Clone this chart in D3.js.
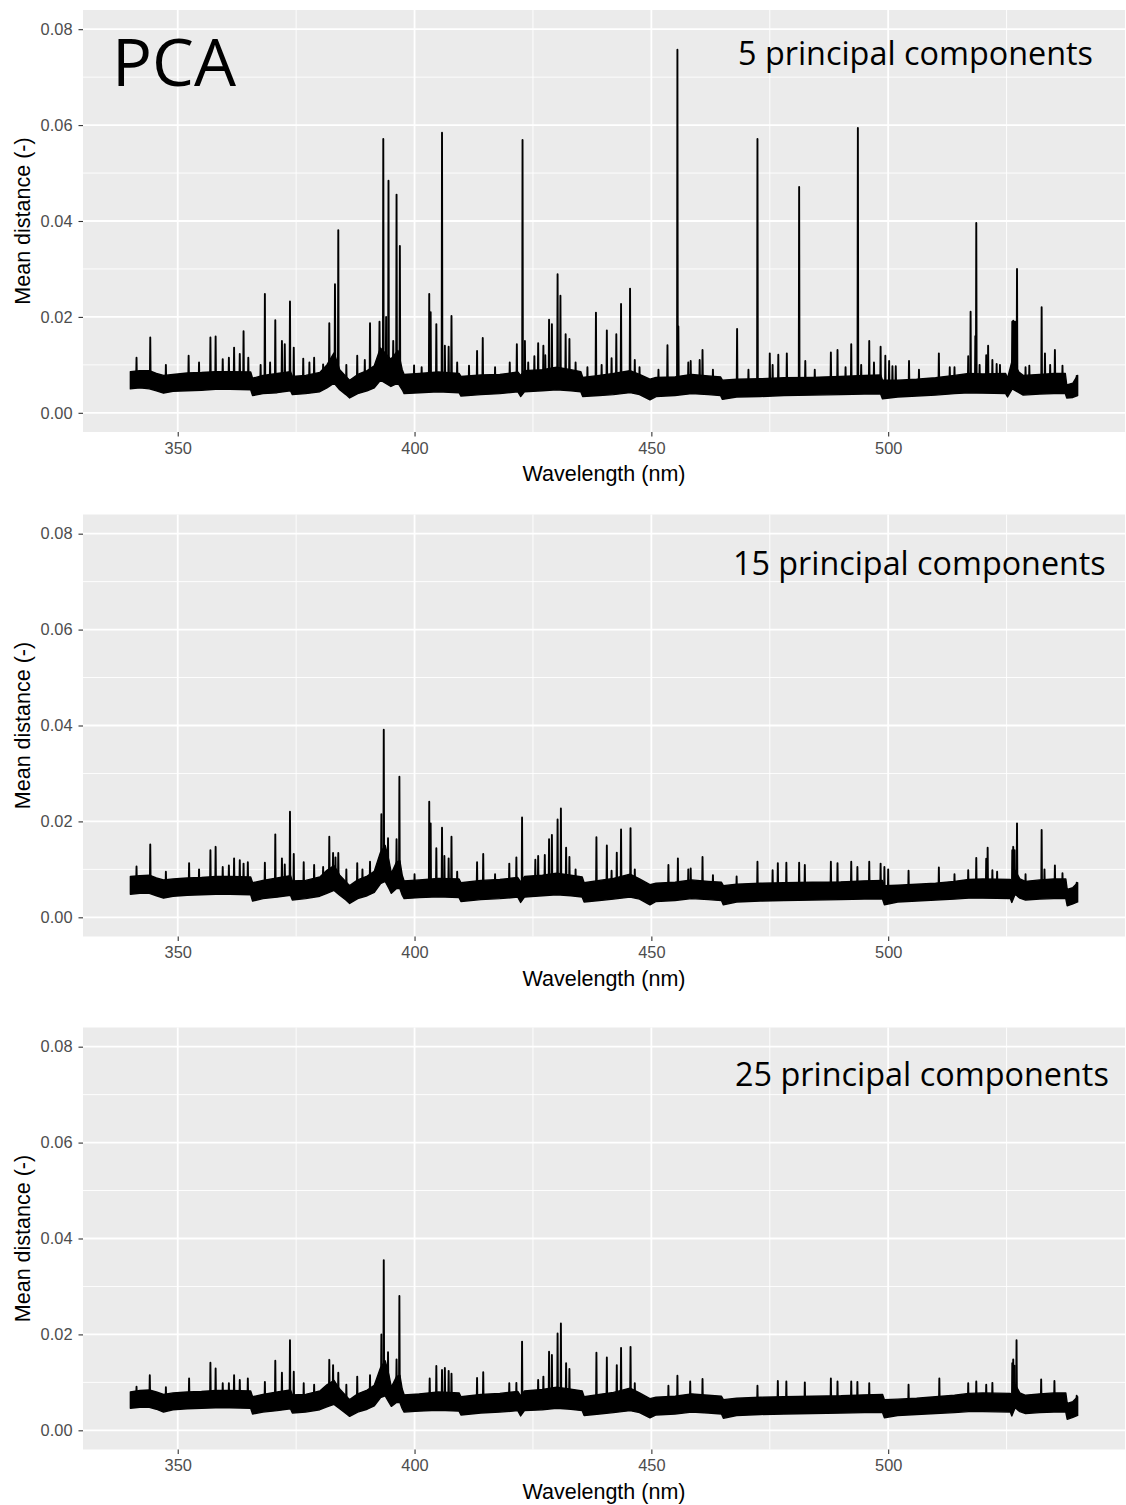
<!DOCTYPE html>
<html>
<head>
<meta charset="utf-8">
<script src="https://cdn.jsdelivr.net/npm/d3@7"></script>
<style>
  body { margin: 0; background: #fff; }
  text { font-family: "Liberation Sans", Arial, sans-serif; }
</style>
</head>
<body>
<script>
// tick values
var wavelengthTicks = [350, 400, 450, 500];
var wavelengthMinor = [375, 425, 475, 525];
var distanceTicks = [0, 0.02, 0.04, 0.06, 0.08];
var distanceMinor = [0.01, 0.03, 0.05, 0.07];

var panelLabels = ["5 principal components", "15 principal components", "25 principal components"];

// noise band of each spectrum: [wavelength, low, high]
var band5 = [
  [340, 0.0050, 0.0086], [342, 0.0052, 0.0088], [344, 0.0050, 0.0088], [345.5, 0.0046, 0.0082], [347, 0.0041, 0.0078],
  [349, 0.0045, 0.0080], [352, 0.0046, 0.0083], [355, 0.0047, 0.0084], [358, 0.0049, 0.0086], [361, 0.0049, 0.0086],
  [365.4, 0.0048, 0.0085], [365.8, 0.0036, 0.0072], [368, 0.0040, 0.0078], [371, 0.0042, 0.0082], [373.8, 0.0046, 0.0086],
  [374.2, 0.0038, 0.0076], [377, 0.0040, 0.0078], [380, 0.0044, 0.0084], [381.5, 0.0052, 0.0100], [383, 0.0062, 0.0125],
  [384.2, 0.0048, 0.0090], [385.5, 0.0038, 0.0076], [386.3, 0.0031, 0.0068], [388, 0.0040, 0.0080], [390, 0.0046, 0.0088],
  [391.5, 0.0052, 0.0098], [392.8, 0.0068, 0.0135], [395.0, 0.0055, 0.0112], [396.5, 0.0062, 0.0130], [397.4, 0.0048, 0.0090],
  [397.8, 0.0040, 0.0080], [401, 0.0042, 0.0082], [405, 0.0044, 0.0085], [409.4, 0.0042, 0.0082], [409.8, 0.0035, 0.0076],
  [414, 0.0038, 0.0079], [418, 0.0040, 0.0080], [421.8, 0.0044, 0.0085], [422.4, 0.0034, 0.0078], [423.2, 0.0044, 0.0088],
  [427, 0.0046, 0.0090], [430, 0.0048, 0.0095], [433, 0.0046, 0.0090], [435.1, 0.0044, 0.0086], [435.5, 0.0034, 0.0074],
  [439, 0.0036, 0.0078], [442, 0.0038, 0.0082], [445.5, 0.0042, 0.0088], [447.5, 0.0038, 0.0080], [449.7, 0.0027, 0.0070],
  [451, 0.0034, 0.0074], [455, 0.0036, 0.0075], [458.5, 0.0040, 0.0080], [462, 0.0038, 0.0077], [464.6, 0.0036, 0.0075],
  [465.0, 0.0028, 0.0068], [468, 0.0033, 0.0070], [473, 0.0034, 0.0071], [478, 0.0036, 0.0073], [484, 0.0037, 0.0074],
  [490, 0.0038, 0.0076], [495, 0.0039, 0.0078], [498.4, 0.0039, 0.0079], [498.8, 0.0029, 0.0068], [502, 0.0033, 0.0068],
  [506, 0.0035, 0.0070], [510, 0.0037, 0.0073], [514, 0.0040, 0.0078], [517, 0.0042, 0.0082], [520, 0.0041, 0.0081],
  [524.8, 0.0040, 0.0082], [525.2, 0.0033, 0.0072], [526.2, 0.0050, 0.0110], [527.6, 0.0042, 0.0085], [528.5, 0.0037, 0.0078],
  [532, 0.0039, 0.0080], [535, 0.0040, 0.0082], [537.4, 0.0040, 0.0082], [537.7, 0.0031, 0.0058], [539, 0.0032, 0.0062],
  [540, 0.0036, 0.0078]
];

var band15 = [
  [340, 0.0048, 0.0085], [342, 0.0050, 0.0087], [344, 0.0050, 0.0088], [345.5, 0.0045, 0.0082], [347, 0.0040, 0.0078],
  [349, 0.0044, 0.0080], [352, 0.0046, 0.0082], [355, 0.0047, 0.0083], [358, 0.0048, 0.0085], [361, 0.0048, 0.0085],
  [365.4, 0.0047, 0.0084], [365.8, 0.0034, 0.0072], [368, 0.0039, 0.0077], [371, 0.0042, 0.0082], [373.8, 0.0046, 0.0087],
  [374.2, 0.0036, 0.0076], [377, 0.0039, 0.0077], [380, 0.0044, 0.0084], [381.5, 0.0050, 0.0098], [383, 0.0056, 0.0108],
  [384.2, 0.0046, 0.0088], [385.5, 0.0036, 0.0074], [386.3, 0.0029, 0.0066], [388, 0.0039, 0.0078], [390, 0.0045, 0.0086],
  [391.5, 0.0052, 0.0096], [392.8, 0.0070, 0.0135], [393.8, 0.0075, 0.0150], [394.6, 0.0060, 0.0118], [395.1, 0.0050, 0.0092],
  [396.2, 0.0060, 0.0115], [396.9, 0.0060, 0.0118], [397.4, 0.0046, 0.0088], [397.8, 0.0039, 0.0076], [401, 0.0041, 0.0078],
  [405, 0.0043, 0.0081], [409.4, 0.0041, 0.0080], [409.8, 0.0033, 0.0072], [414, 0.0037, 0.0077], [418, 0.0039, 0.0079],
  [421.8, 0.0042, 0.0083], [422.4, 0.0031, 0.0074], [423.2, 0.0042, 0.0085], [427, 0.0045, 0.0088], [430, 0.0047, 0.0092],
  [433, 0.0045, 0.0088], [435.4, 0.0042, 0.0084], [435.8, 0.0032, 0.0072], [439, 0.0035, 0.0077], [442, 0.0038, 0.0081],
  [445.5, 0.0042, 0.0090], [447.5, 0.0038, 0.0080], [449.7, 0.0026, 0.0068], [451, 0.0033, 0.0071], [455, 0.0035, 0.0073],
  [458.5, 0.0039, 0.0078], [462, 0.0037, 0.0075], [464.8, 0.0035, 0.0073], [465.2, 0.0026, 0.0066], [468, 0.0032, 0.0069],
  [473, 0.0034, 0.0071], [478, 0.0035, 0.0072], [484, 0.0036, 0.0073], [490, 0.0037, 0.0074], [495, 0.0038, 0.0076],
  [498.8, 0.0038, 0.0077], [499.2, 0.0026, 0.0066], [502, 0.0032, 0.0067], [506, 0.0034, 0.0069], [510, 0.0036, 0.0071],
  [514, 0.0038, 0.0075], [517, 0.0040, 0.0079], [520, 0.0040, 0.0080], [525.8, 0.0039, 0.0079], [526.1, 0.0031, 0.0070],
  [526.8, 0.0048, 0.0098], [527.8, 0.0040, 0.0080], [529, 0.0036, 0.0075], [532, 0.0038, 0.0078], [535, 0.0039, 0.0080],
  [537.5, 0.0039, 0.0080], [537.8, 0.0024, 0.0058], [539, 0.0028, 0.0062], [540, 0.0032, 0.0072]
];

var band25 = [
  [340, 0.0046, 0.0080], [342, 0.0048, 0.0083], [344, 0.0048, 0.0084], [345.5, 0.0044, 0.0080], [347, 0.0038, 0.0075],
  [349, 0.0043, 0.0078], [352, 0.0045, 0.0080], [355, 0.0046, 0.0081], [358, 0.0047, 0.0083], [361, 0.0047, 0.0083],
  [365.4, 0.0046, 0.0082], [365.8, 0.0034, 0.0070], [368, 0.0038, 0.0075], [371, 0.0041, 0.0080], [373.8, 0.0045, 0.0084],
  [374.2, 0.0036, 0.0074], [377, 0.0038, 0.0075], [380, 0.0043, 0.0082], [381.5, 0.0049, 0.0095], [383, 0.0054, 0.0104],
  [384.2, 0.0045, 0.0086], [385.5, 0.0035, 0.0072], [386.3, 0.0029, 0.0064], [388, 0.0038, 0.0076], [390, 0.0044, 0.0084],
  [391.5, 0.0051, 0.0094], [392.8, 0.0068, 0.0130], [393.8, 0.0072, 0.0145], [394.6, 0.0058, 0.0115], [395.1, 0.0050, 0.0090],
  [396.2, 0.0058, 0.0112], [396.9, 0.0058, 0.0115], [397.4, 0.0045, 0.0086], [397.8, 0.0038, 0.0074], [401, 0.0040, 0.0076],
  [405, 0.0042, 0.0080], [409.4, 0.0040, 0.0078], [409.8, 0.0032, 0.0070], [414, 0.0036, 0.0075], [418, 0.0038, 0.0077],
  [421.8, 0.0041, 0.0081], [422.4, 0.0030, 0.0072], [423.2, 0.0041, 0.0082], [427, 0.0043, 0.0085], [430, 0.0046, 0.0090],
  [433, 0.0044, 0.0086], [435.4, 0.0041, 0.0082], [435.8, 0.0031, 0.0070], [439, 0.0034, 0.0075], [442, 0.0037, 0.0079],
  [445.5, 0.0041, 0.0088], [447.5, 0.0037, 0.0078], [449.7, 0.0026, 0.0066], [451, 0.0032, 0.0069], [455, 0.0034, 0.0071],
  [458.5, 0.0038, 0.0076], [462, 0.0036, 0.0073], [464.8, 0.0034, 0.0071], [465.2, 0.0025, 0.0064], [468, 0.0031, 0.0067],
  [473, 0.0033, 0.0069], [478, 0.0034, 0.0070], [484, 0.0035, 0.0071], [490, 0.0036, 0.0072], [495, 0.0037, 0.0074],
  [498.8, 0.0037, 0.0075], [499.2, 0.0026, 0.0064], [502, 0.0031, 0.0065], [506, 0.0033, 0.0067], [510, 0.0035, 0.0070],
  [514, 0.0037, 0.0073], [517, 0.0039, 0.0077], [520, 0.0039, 0.0078], [525.8, 0.0038, 0.0077], [526.1, 0.0030, 0.0068],
  [526.8, 0.0047, 0.0096], [527.8, 0.0039, 0.0078], [529, 0.0035, 0.0073], [532, 0.0037, 0.0076], [535, 0.0038, 0.0078],
  [537.5, 0.0038, 0.0078], [537.8, 0.0023, 0.0056], [539, 0.0027, 0.0060], [540, 0.0031, 0.0070]
];

// emission lines: [wavelength, peak value]
var peaks5 = [
  [341.3, 0.0115], [344.2, 0.0157], [347.5, 0.0100], [352.3, 0.0119], [354.5, 0.0105], [356.9, 0.0157], [358.0, 0.0159],
  [359.5, 0.0112], [360.8, 0.0115], [361.9, 0.0136], [363.1, 0.0123], [363.9, 0.0170], [364.9, 0.0115], [367.5, 0.0100],
  [368.4, 0.0248], [369.5, 0.0105], [370.6, 0.0193], [372.0, 0.0150], [372.6, 0.0143], [373.7, 0.0232], [374.5, 0.0136],
  [376.5, 0.0113], [377.8, 0.0105], [378.8, 0.0115], [380.7, 0.0101], [382.0, 0.0187], [383.2, 0.0268], [383.9, 0.0381],
  [385.6, 0.0100], [387.9, 0.0119], [389.5, 0.0110], [390.6, 0.0187], [392.6, 0.0190], [393.4, 0.0571], [394.0, 0.0200],
  [394.5, 0.0484], [395.5, 0.0150], [396.2, 0.0455], [396.9, 0.0348], [399.9, 0.0099], [401.5, 0.0095], [403.1, 0.0248],
  [403.4, 0.0210], [404.6, 0.0185], [405.8, 0.0584], [406.4, 0.0140], [407.2, 0.0138], [407.8, 0.0202], [409.0, 0.0105],
  [411.5, 0.0098], [413.2, 0.0129], [414.4, 0.0156], [417.0, 0.0095], [420.1, 0.0105], [421.6, 0.0143], [422.8, 0.0569],
  [423.3, 0.0150], [424.0, 0.0105], [425.3, 0.0118], [426.1, 0.0145], [427.2, 0.0140], [427.6, 0.0120], [428.4, 0.0194],
  [429.0, 0.0185], [430.2, 0.0289], [430.8, 0.0244], [431.9, 0.0164], [432.7, 0.0154], [434.0, 0.0105], [436.5, 0.0095],
  [438.3, 0.0209], [439.5, 0.0100], [440.6, 0.0172], [441.6, 0.0114], [442.6, 0.0164], [443.6, 0.0227], [445.5, 0.0259],
  [446.5, 0.0110], [447.5, 0.0095], [451.5, 0.0090], [453.4, 0.0141], [455.5, 0.0757], [455.7, 0.0180], [457.8, 0.0105],
  [458.3, 0.0108], [460.2, 0.0110], [460.8, 0.0131], [463.0, 0.0090], [468.1, 0.0175], [470.5, 0.0090], [472.4, 0.0571],
  [475.0, 0.0124], [475.6, 0.0100], [476.8, 0.0121], [478.6, 0.0124], [481.2, 0.0471], [482.5, 0.0108], [484.5, 0.0090],
  [487.9, 0.0126], [489.3, 0.0131], [491.0, 0.0095], [492.2, 0.0143], [493.6, 0.0594], [494.3, 0.0100], [496.0, 0.0150],
  [497.0, 0.0105], [498.4, 0.0138], [499.4, 0.0119], [500.2, 0.0108], [500.9, 0.0097], [501.6, 0.0097], [504.4, 0.0108],
  [506.5, 0.0090], [510.7, 0.0124], [513.0, 0.0095], [514.0, 0.0095], [516.9, 0.0118], [517.4, 0.0211], [518.4, 0.0160],
  [518.6, 0.0396], [519.3, 0.0100], [520.7, 0.0120], [521.1, 0.0140], [522.0, 0.0110], [522.9, 0.0102], [523.6, 0.0100],
  [526.2, 0.0190], [526.4, 0.0192], [526.6, 0.0190], [526.8, 0.0190], [527.2, 0.0300], [529.0, 0.0095], [529.8, 0.0098],
  [532.4, 0.0220], [533.1, 0.0124], [534.2, 0.0100], [535.2, 0.0131], [536.8, 0.0098], [539.8, 0.0077]
];

var peaks15 = [
  [341.3, 0.0106], [344.2, 0.0152], [347.5, 0.0095], [352.4, 0.0113], [354.5, 0.0100], [356.9, 0.0140], [358.0, 0.0147],
  [359.5, 0.0105], [360.8, 0.0108], [361.9, 0.0123], [363.1, 0.0119], [363.9, 0.0112], [364.8, 0.0115], [368.4, 0.0114],
  [370.6, 0.0173], [372.0, 0.0123], [372.6, 0.0110], [373.7, 0.0220], [374.5, 0.0132], [376.6, 0.0115], [378.8, 0.0109],
  [380.7, 0.0105], [382.0, 0.0168], [382.8, 0.0134], [383.3, 0.0125], [383.9, 0.0134], [385.6, 0.0100], [387.9, 0.0113],
  [389.0, 0.0100], [390.6, 0.0116], [393.0, 0.0215], [393.5, 0.0391], [394.4, 0.0165], [396.2, 0.0163], [396.8, 0.0293],
  [400.0, 0.0090], [403.1, 0.0241], [403.4, 0.0196], [404.6, 0.0144], [405.8, 0.0187], [406.3, 0.0128], [407.2, 0.0123],
  [407.8, 0.0168], [409.0, 0.0095], [413.2, 0.0115], [414.5, 0.0132], [417.0, 0.0090], [420.0, 0.0112], [421.5, 0.0125],
  [422.7, 0.0208], [425.5, 0.0120], [426.1, 0.0128], [427.5, 0.0130], [428.4, 0.0163], [429.0, 0.0172], [430.2, 0.0204],
  [430.9, 0.0227], [432.0, 0.0145], [432.7, 0.0126], [434.0, 0.0100], [438.4, 0.0167], [440.6, 0.0150], [441.6, 0.0097],
  [442.7, 0.0135], [443.6, 0.0183], [445.6, 0.0186], [446.5, 0.0100], [453.6, 0.0109], [455.6, 0.0123], [457.8, 0.0100],
  [458.3, 0.0102], [460.8, 0.0126], [463.0, 0.0088], [468.0, 0.0085], [472.4, 0.0116], [475.6, 0.0098], [476.7, 0.0113],
  [478.5, 0.0114], [481.2, 0.0114], [482.4, 0.0109], [487.9, 0.0116], [489.3, 0.0113], [492.2, 0.0116], [493.5, 0.0105],
  [496.0, 0.0116], [498.4, 0.0112], [499.2, 0.0105], [500.0, 0.0100], [504.3, 0.0097], [510.7, 0.0104], [514.0, 0.0090],
  [516.9, 0.0098], [518.6, 0.0124], [520.7, 0.0122], [521.0, 0.0145], [522.0, 0.0098], [523.0, 0.0095], [526.2, 0.0140],
  [526.4, 0.0147], [526.7, 0.0140], [527.2, 0.0196], [529.0, 0.0090], [532.4, 0.0182], [533.0, 0.0100], [535.2, 0.0108],
  [536.8, 0.0092], [539.8, 0.0072]
];

var peaks25 = [
  [341.3, 0.0091], [344.1, 0.0115], [347.5, 0.0090], [352.4, 0.0108], [356.9, 0.0141], [358.0, 0.0129], [359.5, 0.0098],
  [360.8, 0.0098], [361.9, 0.0115], [363.1, 0.0105], [364.8, 0.0108], [368.4, 0.0101], [370.6, 0.0145], [372.0, 0.0120],
  [373.7, 0.0188], [374.5, 0.0122], [376.6, 0.0098], [378.8, 0.0095], [382.0, 0.0147], [382.8, 0.0136], [383.9, 0.0120],
  [385.6, 0.0095], [387.9, 0.0112], [390.6, 0.0115], [393.0, 0.0200], [393.5, 0.0355], [394.4, 0.0163], [396.2, 0.0148],
  [396.8, 0.0280], [403.2, 0.0108], [404.6, 0.0134], [405.8, 0.0126], [406.4, 0.0130], [407.2, 0.0124], [407.8, 0.0118],
  [413.2, 0.0109], [414.5, 0.0121], [420.0, 0.0098], [421.5, 0.0099], [422.7, 0.0185], [426.1, 0.0105], [427.2, 0.0112],
  [428.4, 0.0164], [429.0, 0.0157], [430.2, 0.0202], [430.9, 0.0223], [432.0, 0.0140], [432.7, 0.0128], [438.4, 0.0162],
  [440.6, 0.0152], [442.7, 0.0136], [443.6, 0.0172], [445.6, 0.0174], [446.5, 0.0098], [453.6, 0.0093], [455.5, 0.0114],
  [458.2, 0.0102], [460.8, 0.0107], [472.4, 0.0093], [476.7, 0.0103], [478.5, 0.0102], [482.4, 0.0100], [487.9, 0.0108],
  [489.3, 0.0102], [492.2, 0.0102], [493.5, 0.0101], [496.0, 0.0098], [504.3, 0.0095], [510.8, 0.0108], [516.9, 0.0098],
  [518.6, 0.0102], [520.7, 0.0095], [522.0, 0.0099], [526.2, 0.0140], [526.4, 0.0148], [526.7, 0.0135], [527.1, 0.0188],
  [532.3, 0.0106], [535.1, 0.0103], [539.8, 0.0072]
];

var bands = [band5, band15, band25];
var peaks = [peaks5, peaks15, peaks25];

var W = 1126, H = 1505;
var left = 83, right = 1125, panelH = 422;
var panelTops = [10, 514.5, 1027.5];
var labelBaselines = [65, 575, 1086];
var labelX = [738, 733, 735];
var labelWidths = [355, 373, 374];

var svg = d3.select("body").append("svg")
    .attr("width", W)
    .attr("height", H);

var xScale = d3.scaleLinear()
    .domain([330, 550])
    .range([left, right]);

var yScale = d3.scaleLinear()
    .domain([-0.004, 0.084])
    .range([panelH, 0]);

var area = d3.area()
    .x(function(d) { return xScale(d[0]); })
    .y0(function(d) { return yScale(d[1]); })
    .y1(function(d) { return yScale(d[2]); });

var line = d3.line()
    .x(function(d) { return xScale(d[0]); })
    .y(function(d) { return yScale(d[1]); });

var bisect = d3.bisector(function(d) { return d[0]; }).left;

function bandMid(band, wl) {
  var i = Math.max(1, Math.min(band.length - 1, bisect(band, wl)));
  var a = band[i - 1], b = band[i];
  var t = (wl - a[0]) / (b[0] - a[0]);
  return ((a[1] + a[2]) / 2) * (1 - t) + ((b[1] + b[2]) / 2) * t;
}

panelTops.forEach(function(top, p) {
  var g = svg.append("g")
      .attr("transform", "translate(0," + top + ")");

  g.append("rect")
      .attr("x", left)
      .attr("y", 0)
      .attr("width", right - left)
      .attr("height", panelH)
      .attr("fill", "#EBEBEB");

  // grid
  g.selectAll(".vminor")
      .data(wavelengthMinor)
    .enter().append("line")
      .attr("x1", function(d) { return xScale(d); })
      .attr("x2", function(d) { return xScale(d); })
      .attr("y1", 0).attr("y2", panelH)
      .attr("stroke", "#fff").attr("stroke-width", 0.9);
  g.selectAll(".hminor")
      .data(distanceMinor)
    .enter().append("line")
      .attr("x1", left).attr("x2", right)
      .attr("y1", function(d) { return yScale(d); })
      .attr("y2", function(d) { return yScale(d); })
      .attr("stroke", "#fff").attr("stroke-width", 0.9);
  g.selectAll(".vmajor")
      .data(wavelengthTicks)
    .enter().append("line")
      .attr("x1", function(d) { return xScale(d); })
      .attr("x2", function(d) { return xScale(d); })
      .attr("y1", 0).attr("y2", panelH)
      .attr("stroke", "#fff").attr("stroke-width", 1.8);
  g.selectAll(".hmajor")
      .data(distanceTicks)
    .enter().append("line")
      .attr("x1", left).attr("x2", right)
      .attr("y1", function(d) { return yScale(d); })
      .attr("y2", function(d) { return yScale(d); })
      .attr("stroke", "#fff").attr("stroke-width", 1.8);

  // spectrum: noise band + lines
  g.append("path")
      .datum(bands[p])
      .attr("d", area)
      .attr("fill", "#000")
      .attr("stroke", "#000")
      .attr("stroke-width", 1.4)
      .attr("stroke-linejoin", "round");

  g.selectAll(".peak")
      .data(peaks[p])
    .enter().append("path")
      .attr("class", "peak")
      .attr("d", function(d) {
        var base = bandMid(bands[p], d[0]);
        return line([[d[0] - 0.08, base], [d[0], d[1]], [d[0] + 0.08, base]]);
      })
      .attr("fill", "#000")
      .attr("stroke", "#000")
      .attr("stroke-width", 1.9)
      .attr("stroke-linejoin", "round");

  // axes
  var xAxis = g.append("g")
      .attr("transform", "translate(0," + panelH + ")")
      .call(d3.axisBottom(xScale)
            .tickValues(wavelengthTicks)
            .tickSize(4.5)
            .tickPadding(5.5));
  var yAxis = g.append("g")
      .attr("transform", "translate(" + left + ",0)")
      .call(d3.axisLeft(yScale)
            .tickValues(distanceTicks)
            .tickFormat(d3.format(".2f"))
            .tickSize(4.5)
            .tickPadding(6));
  [xAxis, yAxis].forEach(function(ax) {
    ax.select(".domain").remove();
    ax.selectAll(".tick line").attr("stroke", "#333").attr("stroke-width", 1.1);
    ax.selectAll(".tick text")
        .attr("fill", "#4D4D4D")
        .style("font-size", "16.4px")
        .style("font-family", "'Liberation Sans', Arial, sans-serif");
  });

  g.append("text")
      .attr("x", (left + right) / 2)
      .attr("y", panelH + 49)
      .attr("text-anchor", "middle")
      .style("font-size", "21.5px")
      .attr("fill", "#000")
      .text("Wavelength (nm)");

  g.append("text")
      .attr("transform", "translate(22," + (panelH / 2) + ") rotate(-90)")
      .attr("dy", "0.35em")
      .attr("text-anchor", "middle")
      .style("font-size", "21.5px")
      .attr("fill", "#000")
      .text("Mean distance (-)");

  // panel label, sized to the reference width
  var lab = svg.append("text")
      .attr("x", labelX[p])
      .attr("y", labelBaselines[p])
      .style("font-family", "'Open Sans', 'Noto Sans', sans-serif")
      .style("font-size", "33px")
      .attr("fill", "#000")
      .text(panelLabels[p]);
  var w = lab.node().getComputedTextLength();
  lab.style("font-size", (33 * labelWidths[p] / w) + "px");
});

var pca = svg.append("text")
    .attr("x", 112)
    .attr("y", 86)
    .style("font-family", "'Open Sans', 'Noto Sans', sans-serif")
    .style("font-size", "68px")
    .attr("fill", "#000")
    .text("PCA");
var pw = pca.node().getComputedTextLength();
pca.style("font-size", (68 * 124 / pw) + "px");
</script>
</body>
</html>
